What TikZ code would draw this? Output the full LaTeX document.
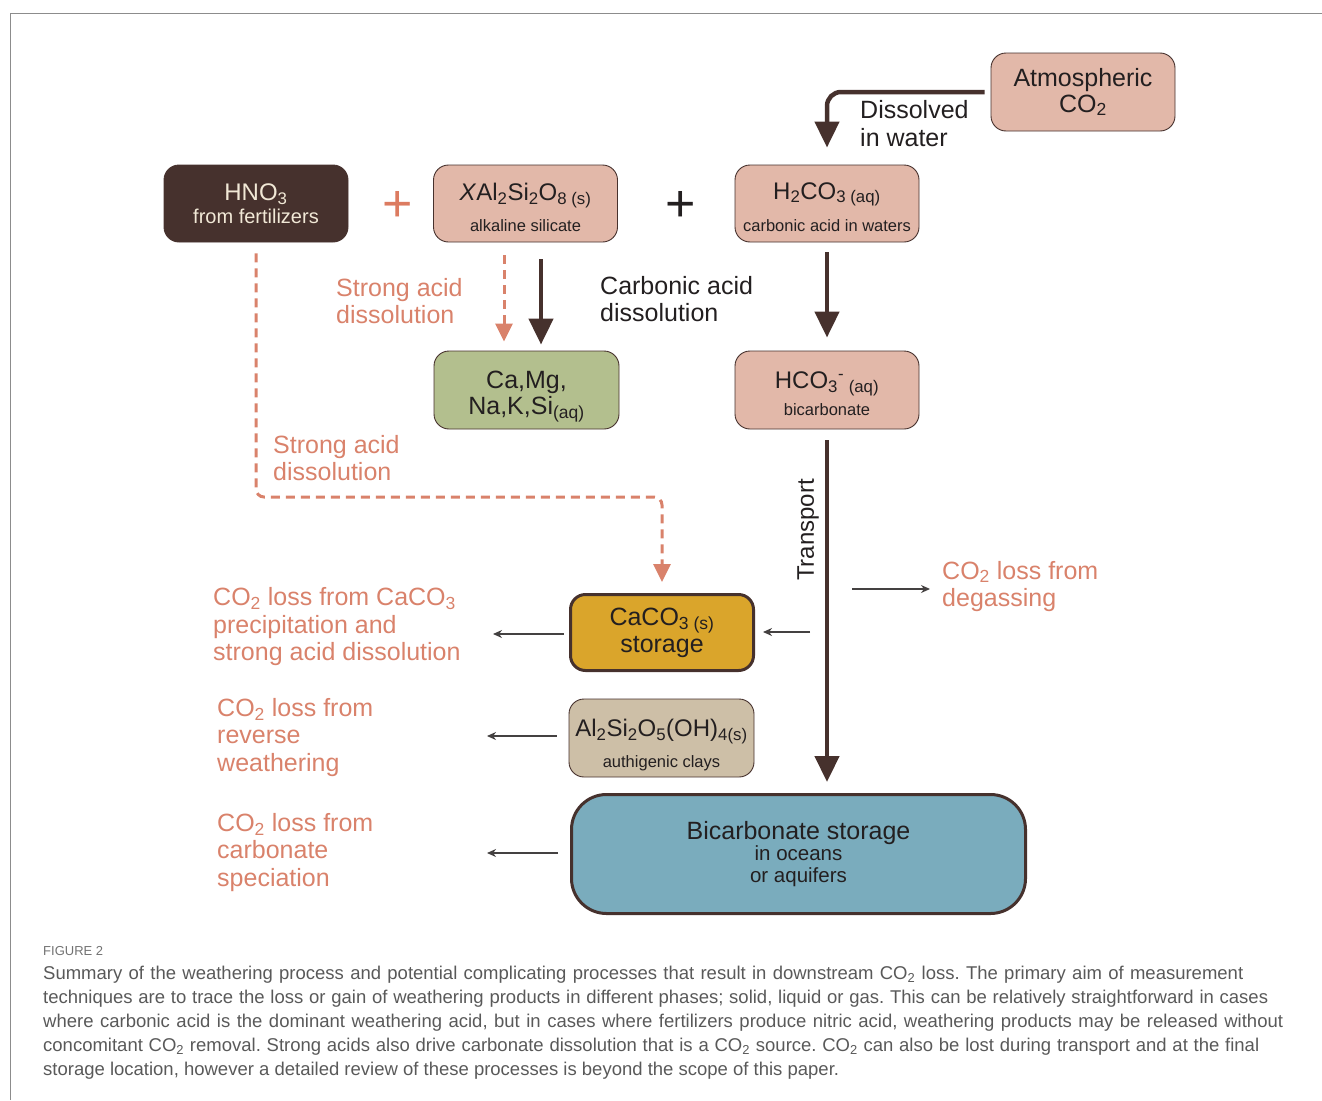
\documentclass[tikz,border=0pt]{standalone}
\usepackage{fontspec}
\setmainfont{Liberation Sans}
\newfontfamily\capfont{Liberation Sans}
\usetikzlibrary{arrows.meta,calc}
\definecolor{dbrown}{HTML}{46312D}
\definecolor{pinkf}{HTML}{E2B8A9}
\definecolor{greenf}{HTML}{B3BF8E}
\definecolor{goldf}{HTML}{DAA52B}
\definecolor{taupef}{HTML}{CDBFA7}
\definecolor{bluef}{HTML}{7AACBD}
\definecolor{salmon}{HTML}{D9826B}
\definecolor{plusor}{HTML}{DC7B60}
\definecolor{cream}{HTML}{F1E8D6}
\definecolor{txt}{HTML}{231F20}
\definecolor{framegray}{HTML}{8C8C8C}
\definecolor{capgray}{HTML}{595959}
\newcommand\myfs[2]{\fontsize{#1pt}{#2pt}\selectfont}
\newcommand\sbs[1]{\textsubscript{#1}}
\newcommand\lift[1]{\rule{0pt}{#1pt}}
\frenchspacing
\begin{document}
\begin{tikzpicture}[x=1pt,y=-1pt,
 box/.style={draw=dbrown, line width=0.9pt, rounded corners=15pt, minimum width=184pt, minimum height=77pt, align=center, inner sep=0pt, text=txt},
 thickbox/.style={box, line width=3pt, minimum width=183pt, minimum height=76pt},
 lab/.style={anchor=west, align=left, inner sep=0pt, font=\myfs{25}{27.5}},
 bigarrow/.style={draw=dbrown, line width=4.5pt, -{Triangle[width=24pt,length=26pt]}},
 dasharrow/.style={draw=salmon, line width=3pt, dash pattern=on 9pt off 6pt, -{Triangle[width=17pt,length=18pt]}},
 thinarrow/.style={draw=txt!85, line width=1.4pt, -{Stealth[width=8pt,length=9pt]}},
 capline/.style={anchor=base west, inner sep=0pt, text=capgray, font=\capfont\myfs{18.5}{24}}
]
\useasboundingbox (0,0) rectangle (1322,1100);
\draw[framegray, line width=1pt] (10,1100) -- (10,13) -- (1322,13);

% boxes
\node[box, fill=dbrown, text=cream, font=\myfs{24}{22.5}] (hno) at (256,203.5) {HNO\sbs{3}\\\myfs{20}{22.5}from fertilizers};
\node[box, fill=pinkf, font=\myfs{24}{31.5}] (xal) at (525.5,203.5) {\lift{25.5}\textit{X}Al\sbs{2}Si\sbs{2}O\sbs{8 (s)}\\\myfs{16.5}{31.5}alkaline silicate};
\node[box, fill=pinkf, font=\myfs{24}{32}] (h2co) at (827,203.5) {\lift{23.5}H\sbs{2}CO\sbs{3 (aq)}\\\myfs{16.5}{32}carbonic acid in waters};
\node[box, fill=pinkf, minimum height=78pt, font=\myfs{25}{26}] (atm) at (1083,92) {Atmospheric\\CO\sbs{2}};
\node[box, fill=greenf, minimum width=185pt, minimum height=78pt, font=\myfs{25}{26}] (ca) at (526.5,390) {\lift{30}Ca,Mg,\\Na,K,Si\sbs{(aq)}};
\node[box, fill=pinkf, minimum height=78pt, font=\myfs{24}{27}] (hco) at (827,390) {\lift{24}HCO\sbs{3}\textsuperscript{-}\sbs{~(aq)}\\\myfs{16.5}{27}bicarbonate};
\node[thickbox, fill=goldf, font=\myfs{25}{27}] (caco) at (662,632.5) {CaCO\sbs{3 (s)}\\storage};
\node[box, fill=taupef, minimum width=185pt, minimum height=78pt, font=\myfs{24}{31}] (clay) at (661.5,738) {\lift{31.5}Al\sbs{2}Si\sbs{2}O\sbs{5}(OH)\sbs{4(s)}\\\myfs{16.5}{31}authigenic clays};
\node[thickbox, fill=bluef, minimum width=454pt, minimum height=119pt, rounded corners=35pt, font=\myfs{25}{21.5}] (bic) at (798.5,854) {Bicarbonate storage\\\myfs{20.5}{21.5}in oceans\\\myfs{20.5}{21.5}or aquifers};

% plus signs
\node[text=plusor, font=\myfs{52}{52}, inner sep=0pt] (plus1) at (398,206) {+};
\node[text=txt, font=\myfs{52}{52}, inner sep=0pt] (plus2) at (681,206) {+};

% labels
\node[lab, text=salmon] (sa1) at (336,301) {Strong acid\\dissolution};
\node[lab, text=txt] (cad) at (600,299) {Carbonic acid\\dissolution};
\node[lab, text=txt] (dis) at (860,123.5) {Dissolved\\in water};
\node[lab, text=salmon] (sa2) at (273,458) {Strong acid\\dissolution};
\node[lab, text=salmon] (deg) at (942,586.5) {CO\sbs{2} loss from\\degassing};
\node[lab, text=salmon] (lc) at (213,627) {CO\sbs{2} loss from CaCO\sbs{3}\\precipitation and\\strong acid dissolution};
\node[lab, text=salmon] (lr) at (217,737.5) {CO\sbs{2} loss from\\reverse\\weathering};
\node[lab, text=salmon] (ls) at (217,852.5) {CO\sbs{2} loss from\\carbonate\\speciation};
\node[rotate=90, font=\myfs{24}{24}, text=txt, inner sep=0pt] (tr) at (808,530) {Transport};

% connectors
\draw[bigarrow, rounded corners=14pt, shorten <=6pt, shorten >=17pt] (atm.west) -| (h2co.north);
\draw[bigarrow, shorten <=10pt, shorten >=13pt] (h2co.south) -- (hco.north);
\draw[bigarrow, shorten <=17pt, shorten >=6pt] ($(xal.south)+(15.5,0)$) -- ($(ca.north)+(14.5,0)$);
\draw[dasharrow, shorten <=13pt, shorten >=9pt] ($(xal.south)+(-21.5,0)$) -- ($(ca.north)+(-22.5,0)$);
\coordinate (bend) at (0,497);
\draw[dasharrow, rounded corners=8pt, shorten <=11pt, shorten >=11pt] (hno.south) |- (caco.north |- bend) -- (caco.north);
\draw[bigarrow, shorten <=11pt, shorten >=11pt] (hco.south) -- (hco.south |- bic.north);

\coordinate (degS) at (852,589);
\draw[thinarrow, shorten >=12pt] (degS) -- (degS -| deg.west);
\coordinate (trS) at (810,632);
\draw[thinarrow, shorten >=8pt] (trS) -- (trS -| caco.east);
\coordinate (lcE) at (493,634);
\draw[thinarrow, shorten <=5pt] (caco.west |- lcE) -- (lcE);
\coordinate (lrE) at (487,736);
\draw[thinarrow, shorten <=12pt] (clay.west |- lrE) -- (lrE);
\coordinate (lsE) at (487,853);
\draw[thinarrow, shorten <=12pt] (bic.west |- lsE) -- (lsE);

% caption
\node[anchor=base west, inner sep=0pt, text=capgray!85, font=\capfont\myfs{13}{13}] (figlab) at (43,955) {FIGURE 2};
\node[capline] (c1) at (43,979) {\makebox[1200pt][s]{Summary of the weathering process and potential complicating processes that result in downstream CO\sbs{2} loss. The primary aim of measurement}};
\node[capline] (c2) at (43,1003) {\makebox[1225pt][s]{techniques are to trace the loss or gain of weathering products in different phases; solid, liquid or gas. This can be relatively straightforward in cases}};
\node[capline] (c3) at (43,1027) {\makebox[1240pt][s]{where carbonic acid is the dominant weathering acid, but in cases where fertilizers produce nitric acid, weathering products may be released without}};
\node[capline] (c4) at (43,1051) {\makebox[1216pt][s]{concomitant CO\sbs{2} removal. Strong acids also drive carbonate dissolution that is a CO\sbs{2} source. CO\sbs{2} can also be lost during transport and at the final}};
\node[capline] (c5) at (43,1075) {storage location, however a detailed review of these processes is beyond the scope of this paper.};
\end{tikzpicture}
\end{document}
